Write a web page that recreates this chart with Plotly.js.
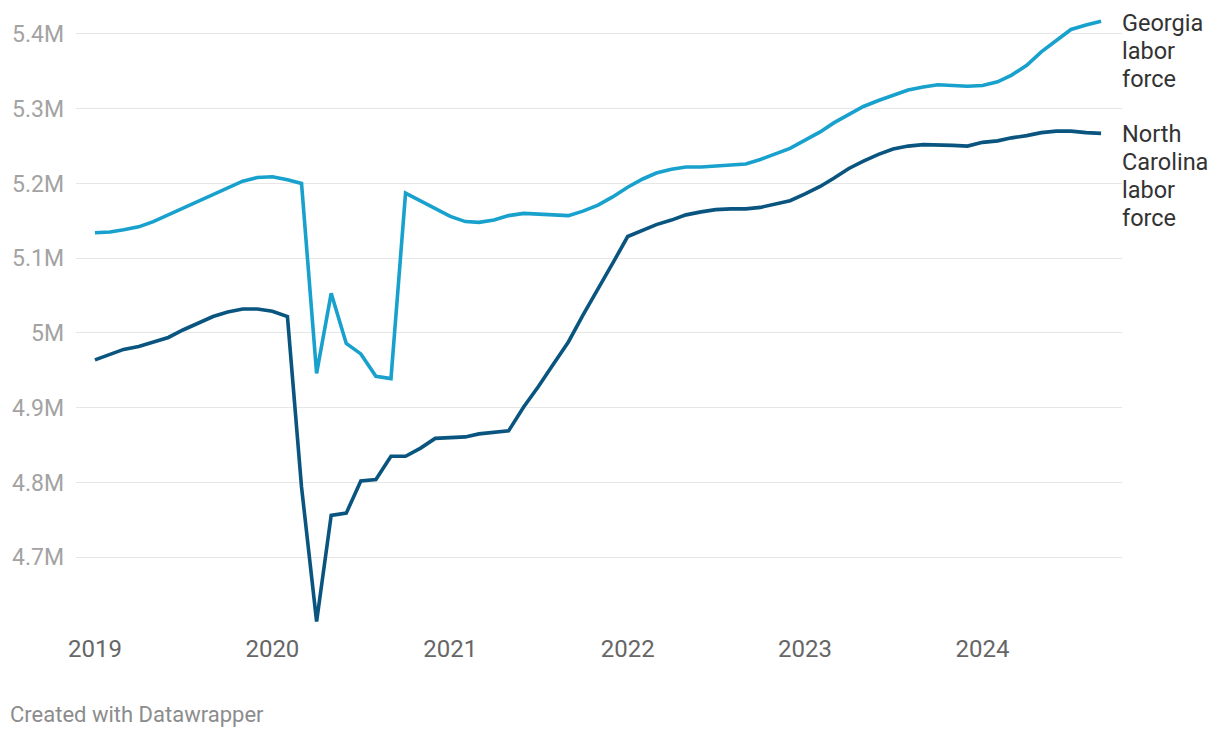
<!DOCTYPE html>
<html>
<head>
<meta charset="utf-8">
<script src="https://cdn.plot.ly/plotly-3.0.1.min.js"></script>
<style>
html,body{margin:0;padding:0;background:#fff;}
#chart{width:1220px;height:738px;}
</style>
</head>
<body>
<div id="chart"></div>
<script>
// Monthly, Jan 2019 - Sep 2024
var months = [
 "2019-01-01","2019-02-01","2019-03-01","2019-04-01","2019-05-01","2019-06-01","2019-07-01","2019-08-01","2019-09-01","2019-10-01","2019-11-01","2019-12-01",
 "2020-01-01","2020-02-01","2020-03-01","2020-04-01","2020-05-01","2020-06-01","2020-07-01","2020-08-01","2020-09-01","2020-10-01","2020-11-01","2020-12-01",
 "2021-01-01","2021-02-01","2021-03-01","2021-04-01","2021-05-01","2021-06-01","2021-07-01","2021-08-01","2021-09-01","2021-10-01","2021-11-01","2021-12-01",
 "2022-01-01","2022-02-01","2022-03-01","2022-04-01","2022-05-01","2022-06-01","2022-07-01","2022-08-01","2022-09-01","2022-10-01","2022-11-01","2022-12-01",
 "2023-01-01","2023-02-01","2023-03-01","2023-04-01","2023-05-01","2023-06-01","2023-07-01","2023-08-01","2023-09-01","2023-10-01","2023-11-01","2023-12-01",
 "2024-01-01","2024-02-01","2024-03-01","2024-04-01","2024-05-01","2024-06-01","2024-07-01","2024-08-01","2024-09-01"
];

// Labor force, millions
var georgia = [
 5.134,5.135,5.138,5.142,5.149,5.158,5.167,5.176,5.185,5.194,5.203,5.208,
 5.209,5.205,5.200,4.946,5.053,4.986,4.972,4.942,4.939,5.187,5.177,5.166,
 5.156,5.149,5.148,5.151,5.157,5.160,5.159,5.158,5.157,5.163,5.171,5.182,
 5.195,5.206,5.214,5.219,5.222,5.222,5.223,5.224,5.226,5.232,5.239,5.247,
 5.258,5.269,5.281,5.292,5.303,5.311,5.318,5.325,5.329,5.332,5.331,5.330,
 5.331,5.336,5.345,5.358,5.376,5.392,5.406,5.412,5.417
];
var northCarolina = [
 4.964,4.972,4.978,4.982,4.988,4.994,5.004,5.013,5.022,5.028,5.032,5.032,
 5.029,5.022,4.794,4.614,4.756,4.759,4.802,4.804,4.835,4.835,4.846,4.859,
 4.860,4.861,4.865,4.867,4.869,4.901,4.928,4.958,4.988,5.024,5.058,5.093,
 5.129,5.138,5.145,5.151,5.158,5.162,5.165,5.166,5.166,5.168,5.173,5.177,
 5.186,5.196,5.207,5.220,5.230,5.239,5.246,5.250,5.252,5.252,5.251,5.250,
 5.255,5.257,5.261,5.264,5.268,5.270,5.270,5.268,5.267
];

var xTickVals = ["2019-01-01","2020-01-01","2021-01-01","2022-01-01","2023-01-01","2024-01-01"];
var xTickText = ["2019","2020","2021","2022","2023","2024"];
var yTickVals = [4.7,4.8,4.9,5.0,5.1,5.2,5.3,5.4];
var yTickText = ["4.7M","4.8M","4.9M","5M","5.1M","5.2M","5.3M","5.4M"];

var georgiaLabel = ["Georgia","labor","force"];
var ncLabel = ["North","Carolina","labor","force"];
var colors = ["#18a1cd","#09557f"];

var traces = [
 {x: months, y: georgia, type:"scatter", mode:"lines", line:{color:colors[0], width:3.6}, hoverinfo:"skip"},
 {x: months, y: northCarolina, type:"scatter", mode:"lines", line:{color:colors[1], width:3.6}, hoverinfo:"skip"}
];

var lastIdx = months.length - 1;
var labelFont = {size:23.5, color:"#333", family:"Roboto, sans-serif"};
var annotations = [];
function addLabel(lines, yval, offset) {
  lines.forEach(function(t, k){
    annotations.push({xref:"paper", yref:"y", x:1, y:yval, xanchor:"left", yanchor:"middle",
      xshift:-2, yshift:offset - 28*k, text:t, showarrow:false, align:"left", font:labelFont});
  });
}
addLabel(georgiaLabel, georgia[lastIdx], -1.5);
addLabel(ncLabel, northCarolina[lastIdx], -1);
annotations.push({xref:"paper", yref:"paper", x:0, y:0, xanchor:"left", yanchor:"middle", xshift:-68, yshift:-82,
   text:"Created with Datawrapper", showarrow:false, align:"left", font:{size:22, color:"#8c8c8c", family:"Roboto, sans-serif"}});

var layout = {
 width:1220, height:738,
 margin:{l:76, r:98, t:19, b:106, pad:0},
 paper_bgcolor:"#fff", plot_bgcolor:"#fff",
 showlegend:false,
 font:{family:"Roboto, sans-serif", color:"#333"},
 xaxis:{
  type:"date",
  range:["2018-11-23","2024-10-14"],
  tickvals:xTickVals, ticktext:xTickText,
  showgrid:false, zeroline:false, showline:false, ticks:"",
  tickfont:{size:24, color:"#666", family:"Roboto, sans-serif"}
 },
 yaxis:{
  range:[4.6,5.42],
  tickvals:yTickVals, ticktext:yTickText,
  showgrid:true, gridcolor:"#e6e6e6", gridwidth:1,
  zeroline:false, showline:false, ticks:"",
  ticklabelstandoff:11,
  tickfont:{size:23, color:"#a3a3a3", family:"Roboto, sans-serif"}
 },
 annotations: annotations
};

Plotly.newPlot("chart", traces, layout, {displayModeBar:false, staticPlot:true});
</script>
</body>
</html>
